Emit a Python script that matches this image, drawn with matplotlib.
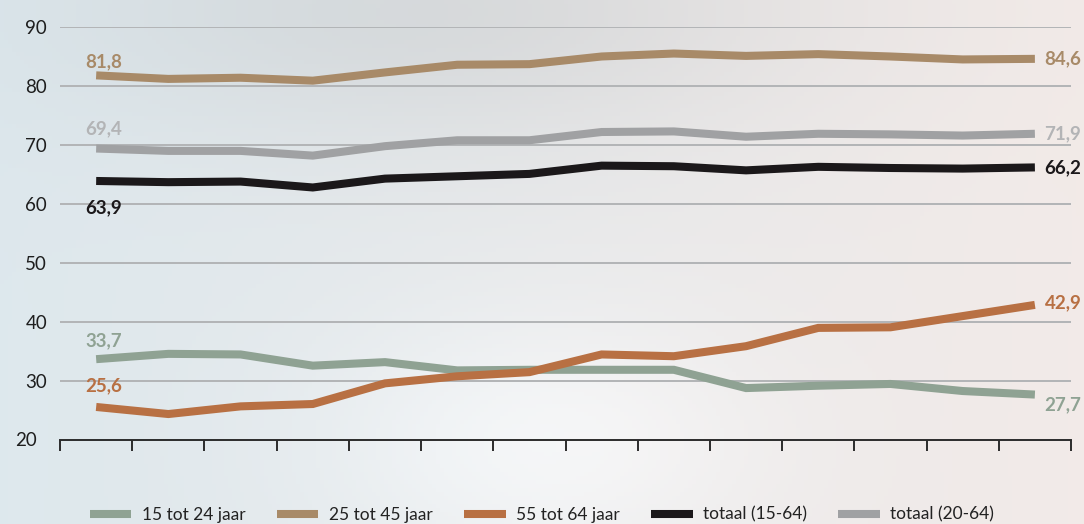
import numpy as np
import matplotlib

matplotlib.use("Agg")
import matplotlib.pyplot as plt
from matplotlib.lines import Line2D

plt.rcParams["font.family"] = ["Lato", "DejaVu Sans"]

# values (14 periods, no x labels)
jeugd_15_24 = [33.7, 34.6, 34.5, 32.6, 33.2, 31.8, 31.9, 31.9, 31.9, 28.8, 29.2, 29.5, 28.3, 27.7]
midden_25_45 = [81.8, 81.2, 81.4, 80.9, 82.3, 83.6, 83.7, 85.0, 85.5, 85.1, 85.4, 85.0, 84.5, 84.6]
ouder_55_64 = [25.6, 24.4, 25.7, 26.1, 29.6, 30.8, 31.5, 34.5, 34.2, 35.9, 39.0, 39.1, 41.0, 42.9]
totaal_15_64 = [63.9, 63.7, 63.8, 62.8, 64.3, 64.7, 65.1, 66.5, 66.4, 65.7, 66.3, 66.1, 66.0, 66.2]
totaal_20_64 = [69.4, 69.0, 69.0, 68.2, 69.8, 70.8, 70.8, 72.2, 72.3, 71.4, 71.9, 71.8, 71.6, 71.9]

series = [
    ("15 tot 24 jaar", jeugd_15_24, "#8fa293", "#8fa293"),
    ("25 tot 45 jaar", midden_25_45, "#a88a68", "#a88a68"),
    ("55 tot 64 jaar", ouder_55_64, "#b87043", "#b87043"),
    ("totaal (15-64)", totaal_15_64, "#1b181a", "#1b181a"),
    ("totaal (20-64)", totaal_20_64, "#a0a1a3", "#b3b4b6"),
]
y_ticks = [20, 30, 40, 50, 60, 70, 80, 90]

fig = plt.figure(figsize=(10.84, 5.24), dpi=100)

# soft photo-like background
bg = fig.add_axes([0, 0, 1, 1], zorder=-10)
h, w = 131, 271
yy, xx = np.mgrid[0:1:h * 1j, 0:1:w * 1j]
left = np.array([0.87, 0.91, 0.93])
right = np.array([0.95, 0.92, 0.91])
img = left[None, None, :] * (1 - xx[..., None]) + right[None, None, :] * xx[..., None]
glow = np.exp(-(((xx - 0.5) / 0.2) ** 2 + ((yy - 0.85) / 0.25) ** 2))
img = img + 0.05 * glow[..., None]
shade = np.exp(-(((xx - 0.4) / 0.35) ** 2 + ((yy - 0.02) / 0.25) ** 2))
img = img - 0.06 * shade[..., None]
bg.imshow(np.clip(img, 0, 1), aspect="auto", extent=[0, 1, 0, 1], origin="upper")
bg.axis("off")

ax = fig.add_axes([0.0554, 0.1603, 0.9326, 0.7882])
ax.patch.set_alpha(0)
n = len(jeugd_15_24)
x = np.arange(n) + 0.5

for label, values, color, _ in series:
    ax.plot(x, values, color=color, linewidth=5.8, solid_capstyle="butt",
            solid_joinstyle="miter", label=label, zorder=3)

ax.set_xlim(0, n)
ax.set_ylim(20, 90)
ax.set_yticks(y_ticks[1:])
ax.set_xticks(np.arange(n + 1))
ax.set_xticklabels([])
ax.yaxis.grid(True, color="#b2b4b6", linewidth=1.4)
ax.set_axisbelow(True)
for side in ("top", "right", "left"):
    ax.spines[side].set_visible(False)
ax.spines["bottom"].set_color("#2b2b2b")
ax.spines["bottom"].set_linewidth(1.4)
ax.tick_params(axis="x", direction="out", length=8, width=1.4, color="#2b2b2b")
ax.tick_params(axis="y", length=0, pad=25, labelsize=13.5, labelcolor="#1e1e1e")
for lbl in ax.get_yticklabels():
    lbl.set_horizontalalignment("left")
# the bottom value (20) sits at the axis line
ax.text(-0.0445, 20, "20", transform=ax.get_yaxis_transform(), ha="left",
        va="center", fontsize=13.5, color="#1e1e1e")


def fmt(v):
    return f"{v:.1f}".replace(".", ",")


# start labels: above the line, except totaal (15-64) below
start_offsets = {"15 tot 24 jaar": 13, "25 tot 45 jaar": 10, "55 tot 64 jaar": 15,
                 "totaal (15-64)": -19, "totaal (20-64)": 14}
# end labels: to the right, 27,7 sits below
end_offsets = {"15 tot 24 jaar": -7, "25 tot 45 jaar": 0, "55 tot 64 jaar": 1.5,
               "totaal (15-64)": 0, "totaal (20-64)": 0}
for label, values, _, tcolor in series:
    ax.annotate(fmt(values[0]), (x[0], values[0]), xytext=(-8, start_offsets[label]),
                textcoords="offset points", ha="left", va="center", fontsize=13.5,
                fontweight="bold", color=tcolor, annotation_clip=False)
    ax.annotate(fmt(values[-1]), (x[-1], values[-1]), xytext=(7, end_offsets[label]),
                textcoords="offset points", ha="left", va="center", fontsize=13.5,
                fontweight="bold", color=tcolor, annotation_clip=False)

handles = [Line2D([0], [0], color=c, linewidth=5.8, solid_capstyle="butt")
           for _, _, c, _ in series]
fig.legend(handles, [s[0] for s in series], loc="center", bbox_to_anchor=(0.5, 0.018),
           ncol=5, frameon=False, fontsize=12.5, handlelength=2.4, handletextpad=0.6,
           columnspacing=1.8, labelcolor="#222222")

fig.savefig("out.png", dpi=100)
